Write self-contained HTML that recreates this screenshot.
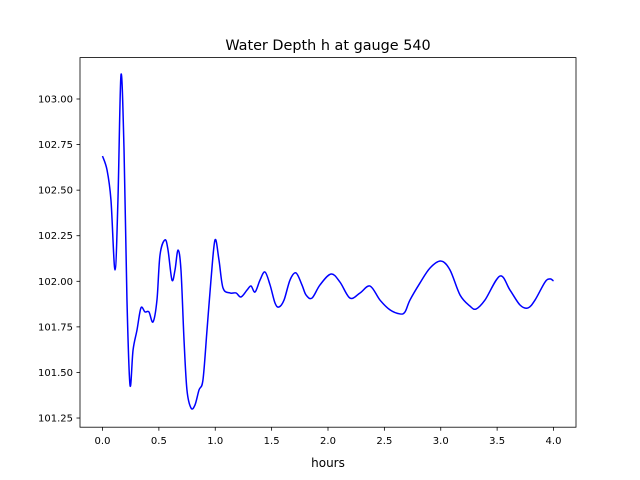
<!DOCTYPE html>
<html><head><meta charset="utf-8"><style>
html,body{margin:0;padding:0;background:#fff;}
svg{display:block;font-family:"DejaVu Sans","Liberation Sans",sans-serif;}
</style></head><body>
<svg id="chart" width="640" height="480" viewBox="0 0 640 480">
<rect width="640" height="480" fill="#fff"/>
<text x="328" y="50" text-anchor="middle" font-size="14.4">Water Depth h at gauge 540</text>
<g id="plot"></g>
<rect x="80" y="57.6" width="496" height="369.6" fill="none" stroke="#000" stroke-width="0.8"/>
<text x="328" y="467" text-anchor="middle" font-size="12">hours</text>
</svg>
<script>
const hours=[0.0,0.04,0.075,0.111,0.137,0.164,0.191,0.217,0.244,0.271,0.306,0.341,0.377,0.412,0.448,0.483,0.51,0.554,0.581,0.616,0.643,0.67,0.696,0.723,0.749,0.785,0.82,0.856,0.891,0.927,0.962,0.998,1.033,1.069,1.131,1.184,1.228,1.282,1.317,1.353,1.397,1.441,1.486,1.53,1.565,1.61,1.663,1.716,1.769,1.805,1.858,1.929,2.027,2.106,2.195,2.284,2.373,2.461,2.55,2.639,2.683,2.727,2.816,2.905,3.002,3.082,3.171,3.259,3.313,3.392,3.525,3.614,3.703,3.774,3.836,3.925,3.969,4.0];
const depth=[102.687,102.611,102.446,102.062,102.446,103.132,102.72,101.897,101.431,101.623,101.733,101.854,101.832,101.832,101.777,101.897,102.144,102.227,102.172,102.007,102.062,102.172,102.062,101.678,101.404,101.305,101.321,101.404,101.459,101.733,102.007,102.227,102.117,101.963,101.936,101.936,101.914,101.952,101.974,101.941,102.007,102.051,101.98,101.881,101.859,101.897,102.007,102.046,101.98,101.925,101.908,101.98,102.04,101.996,101.908,101.936,101.974,101.897,101.843,101.821,101.832,101.897,101.991,102.073,102.111,102.062,101.925,101.864,101.848,101.897,102.029,101.952,101.87,101.854,101.897,101.996,102.013,102.002];
const xTicks=[0.0,0.5,1.0,1.5,2.0,2.5,3.0,3.5,4.0];
const xTickLabels=["0.0","0.5","1.0","1.5","2.0","2.5","3.0","3.5","4.0"];
const yTicks=[101.25,101.5,101.75,102.0,102.25,102.5,102.75,103.0];
const yTickLabels=["101.25","101.50","101.75","102.00","102.25","102.50","102.75","103.00"];

const NS="http://www.w3.org/2000/svg";
const g=document.getElementById('plot');
function xs(t){return 102.5+t*112.75;}
function ys(v){return 99+(103-v)*182.3;}
function mk(tag,attrs){const e=document.createElementNS(NS,tag);for(const k in attrs)e.setAttribute(k,attrs[k]);g.appendChild(e);return e;}
xTicks.forEach((t,i)=>{
  const l=mk('line',{x1:xs(t),x2:xs(t),y1:427.2,y2:430.7,stroke:'#000','stroke-width':0.8});
  
  
  const tx=mk('text',{x:xs(t),y:444,'text-anchor':'middle','font-size':10});
  tx.textContent=xTickLabels[i];
  
  
});
yTicks.forEach((v,i)=>{
  const l=mk('line',{x1:76.5,x2:80,y1:ys(v),y2:ys(v),stroke:'#000','stroke-width':0.8});
  
  
  const tx=mk('text',{x:73,y:ys(v)+3.5,'text-anchor':'end','font-size':10});
  tx.textContent=yTickLabels[i];
  
  
});
const P=hours.map((t,i)=>[xs(t),ys(depth[i])]);
let d='M'+P[0][0]+','+P[0][1];
for(let i=0;i<P.length-1;i++){
  const p0=P[Math.max(0,i-1)],p1=P[i],p2=P[i+1],p3=P[Math.min(P.length-1,i+2)];
  const c1=[p1[0]+(p2[0]-p0[0])/6,p1[1]+(p2[1]-p0[1])/6];
  const c2=[p2[0]-(p3[0]-p1[0])/6,p2[1]-(p3[1]-p1[1])/6];
  d+=' C'+c1[0]+','+c1[1]+' '+c2[0]+','+c2[1]+' '+p2[0]+','+p2[1];
}
const line=mk('path',{d:d,fill:'none',stroke:'#0000ff','stroke-width':1.5});


</script>
</body></html>
